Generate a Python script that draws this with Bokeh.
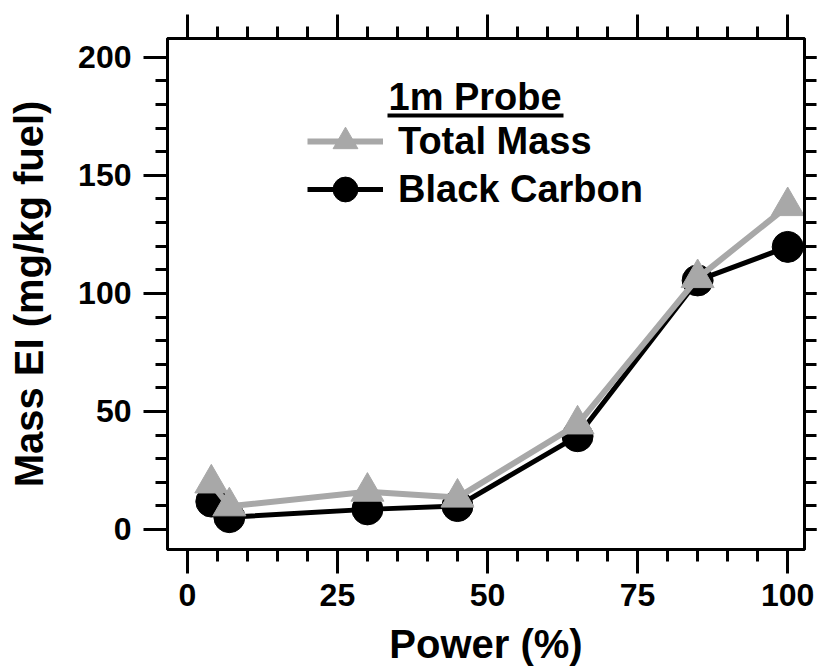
from bokeh.plotting import figure
from bokeh.models import (LinearAxis, SingleIntervalTicker, Range1d, Legend, LegendItem,
                          Label, BoxAnnotation, CustomJSTickFormatter)
from bokeh.embed import file_html
from bokeh.resources import INLINE

# ---- data ----
power = [4, 7, 30, 45, 65, 85, 100]
black_carbon = [11.8, 5.2, 8.5, 9.9, 39.5, 105.5, 119.7]
total_mass = [19.5, 9.8, 16.0, 13.5, 44.5, 106.5, 137.0]
x_ticks_interval = 25
y_ticks_interval = 50
legend_title = "1m Probe"
series_names = ["Total Mass", "Black Carbon"]

FONT = "Liberation Sans"
GREY = "#a8a8a8"

p = figure(width=817, height=668, output_backend="svg", toolbar_location=None,
           x_range=Range1d(-3.3, 102.8), y_range=Range1d(-8.5, 208),
           x_axis_location=None, y_axis_location=None,
           min_border_left=167, min_border_right=13, min_border_top=38, min_border_bottom=118)
p.background_fill_color = "white"
p.border_fill_color = "white"
p.outline_line_color = "black"
p.outline_line_width = 3
p.xgrid.visible = False
p.ygrid.visible = False

def style_axis(ax, interval, tick_out, minor_out, labels=True):
    ax.ticker = SingleIntervalTicker(interval=interval, num_minor_ticks=5)
    ax.axis_line_width = 3
    ax.axis_line_color = "black"
    ax.major_tick_line_width = 3
    ax.minor_tick_line_width = 3
    ax.major_tick_in = 0
    ax.minor_tick_in = 0
    ax.major_tick_out = tick_out
    ax.minor_tick_out = minor_out
    if labels:
        ax.major_label_text_font = FONT
        ax.major_label_text_font_style = "bold"
        ax.major_label_text_font_size = "32px"
        ax.major_label_text_color = "black"
        ax.axis_label_text_font = FONT
        ax.axis_label_text_font_style = "bold"
        ax.axis_label_text_font_size = "40px"
        ax.axis_label_text_color = "black"
    else:
        ax.formatter = CustomJSTickFormatter(code="return ''")
        ax.major_label_text_font_size = "0px"
        ax.major_label_standoff = 0

xb = LinearAxis(axis_label="Power (%)")
style_axis(xb, x_ticks_interval, 24, 12)
xb.major_label_standoff = 10
xb.axis_label_standoff = 13
p.add_layout(xb, "below")

yl = LinearAxis(axis_label="Mass EI (mg/kg fuel)")
style_axis(yl, y_ticks_interval, 24, 12)
yl.major_label_standoff = 12
yl.axis_label_standoff = 24
p.add_layout(yl, "left")

xt = LinearAxis()
style_axis(xt, x_ticks_interval, 24, 12, labels=False)
p.add_layout(xt, "above")

yr = LinearAxis()
style_axis(yr, y_ticks_interval, 12, 12, labels=False)
p.add_layout(yr, "right")

# ---- series ----
bc_line = p.line(power, black_carbon, line_color="black", line_width=5)
bc_pts = p.scatter(power, black_carbon, marker="circle", size=31, fill_color="black",
                   line_color="black")
tm_line = p.line(power, total_mass, line_color=GREY, line_width=6)
tm_pts = p.scatter(power, total_mass, marker="triangle", size=33, fill_color=GREY,
                   line_color=GREY)

def make_legend(label, renderers, loc):
    return Legend(items=[LegendItem(label=label, renderers=renderers)],
                  location=loc, orientation="vertical",
                  glyph_width=76, glyph_height=62, spacing=0, padding=0, margin=0,
                  label_standoff=15,
                  label_text_font=FONT, label_text_font_style="bold",
                  label_text_font_size="38px", label_text_color="black",
                  border_line_color=None, background_fill_alpha=0)

p.add_layout(make_legend(series_names[0], [tm_line, tm_pts], (140, 377)), "center")
p.add_layout(make_legend(series_names[1], [bc_line, bc_pts], (140, 329)), "center")

title = Label(x=221, y=453, x_units="screen", y_units="screen", text=legend_title,
              text_font=FONT, text_font_style="bold", text_font_size="38px",
              text_color="black", text_baseline="alphabetic")
p.add_layout(title)
underline = BoxAnnotation(left=220, right=396, bottom=432, top=436,
                          left_units="screen", right_units="screen",
                          bottom_units="screen", top_units="screen",
                          fill_color="black", fill_alpha=1, line_color=None)
p.add_layout(underline)

open("out.html", "w").write(file_html(p, INLINE))
